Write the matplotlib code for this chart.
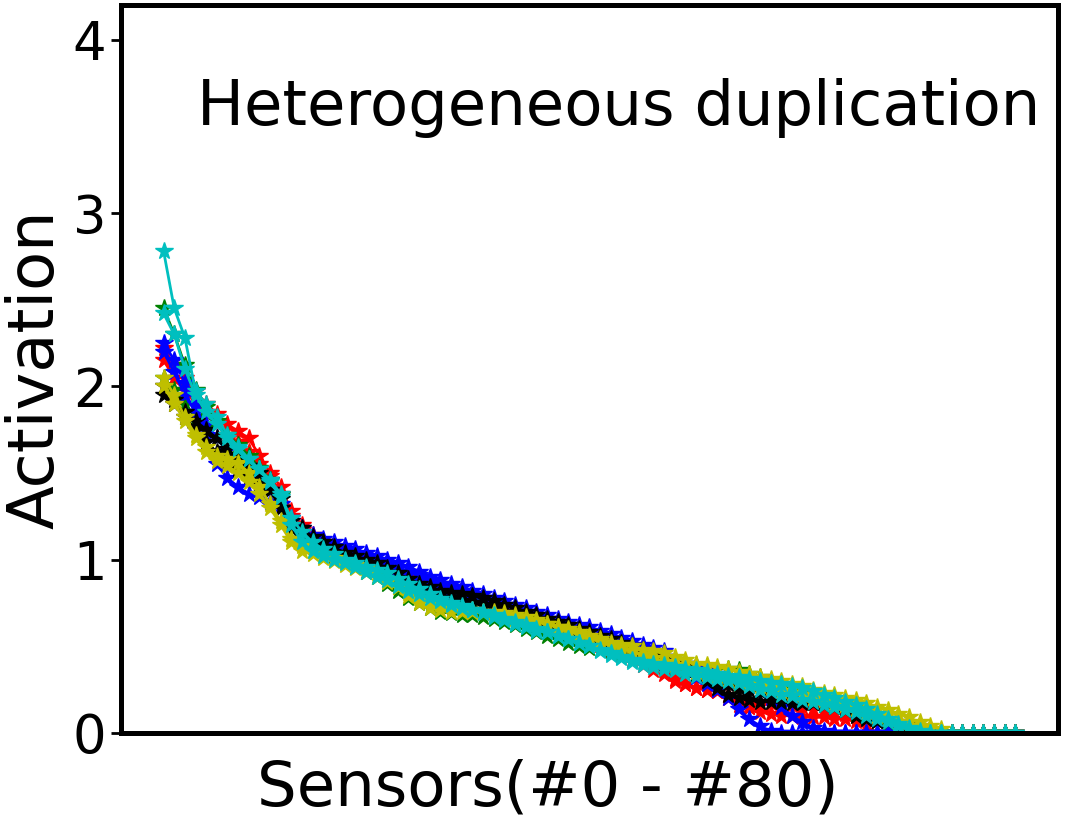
import numpy as np
import matplotlib
matplotlib.use('Agg')
import matplotlib.pyplot as plt

# sorted activations of the 81 sensors, two runs per colour
sensors = np.arange(81)

red_1 = [2.22, 2.12, 2.05, 1.97, 1.90, 1.84, 1.78, 1.74, 1.70, 1.60, 1.50, 1.42, 1.28,
         1.20, 1.14, 1.10, 1.06, 1.03, 1.00, 0.98, 0.96,
         0.94, 0.92, 0.90, 0.88, 0.86, 0.84, 0.82, 0.80, 0.78, 0.76,
         0.74, 0.72, 0.70, 0.68, 0.66, 0.64, 0.62, 0.60, 0.57, 0.54,
         0.51, 0.48, 0.45, 0.42, 0.39, 0.36, 0.34, 0.31, 0.28, 0.26,
         0.25, 0.24, 0.22, 0.18, 0.15, 0.12, 0.11, 0.10, 0.10, 0.09,
         0.09, 0.09, 0.08, 0.08, 0.07, 0.04, 0, 0, 0, 0,
         0, 0, 0, 0, 0, 0, 0, 0, 0, 0]
red_2 = [2.15, 2.05, 1.98, 1.90, 1.85, 1.78, 1.72, 1.68, 1.62, 1.55, 1.48, 1.38, 1.25,
         1.17, 1.12, 1.08, 1.05, 1.02, 0.99, 0.97, 0.95,
         0.93, 0.90, 0.88, 0.86, 0.84, 0.82, 0.80, 0.79, 0.77, 0.75,
         0.73, 0.71, 0.69, 0.67, 0.65, 0.63, 0.61, 0.59, 0.57, 0.55,
         0.53, 0.51, 0.49, 0.47, 0.45, 0.40, 0.36, 0.30, 0.28, 0.26,
         0.25, 0.24, 0.20, 0.16, 0.15, 0.16, 0.17, 0.16, 0.16, 0.15,
         0.14, 0.13, 0.12, 0.11, 0.10, 0.09, 0.07, 0.04, 0.01, 0,
         0, 0, 0, 0, 0, 0, 0, 0, 0, 0]
green_1 = [2.45, 2.30, 2.12, 1.98, 1.88, 1.80, 1.72, 1.66, 1.60, 1.53, 1.46, 1.37, 1.20,
           1.12, 1.08, 1.05, 1.02, 0.99, 0.96, 0.93, 0.90,
           0.86, 0.82, 0.78, 0.75, 0.72, 0.70, 0.69, 0.68, 0.68, 0.67,
           0.66, 0.64, 0.62, 0.60, 0.58, 0.56, 0.54, 0.52, 0.50, 0.49,
           0.48, 0.47, 0.46, 0.45, 0.44, 0.43, 0.42, 0.41, 0.40, 0.39,
           0.38, 0.37, 0.37, 0.36, 0.34, 0.32, 0.30, 0.28, 0.26, 0.24,
           0.23, 0.21, 0.19, 0.17, 0.15, 0.13, 0.11, 0.08, 0.05, 0.02,
           0, 0, 0, 0, 0, 0, 0, 0, 0, 0]
green_2 = [2.05, 1.98, 1.90, 1.82, 1.76, 1.70, 1.64, 1.58, 1.52, 1.47, 1.40, 1.30, 1.18,
           1.12, 1.09, 1.07, 1.05, 1.03, 1.01, 0.99, 0.97,
           0.95, 0.92, 0.89, 0.86, 0.84, 0.82, 0.80, 0.78, 0.76, 0.74,
           0.72, 0.70, 0.68, 0.66, 0.64, 0.62, 0.60, 0.58, 0.56, 0.54,
           0.52, 0.50, 0.48, 0.46, 0.44, 0.42, 0.40, 0.38, 0.36, 0.34,
           0.33, 0.31, 0.30, 0.28, 0.27, 0.25, 0.24, 0.22, 0.21, 0.20,
           0.18, 0.17, 0.15, 0.13, 0.11, 0.09, 0.07, 0.05, 0.03, 0.01,
           0, 0, 0, 0, 0, 0, 0, 0, 0, 0]
blue_1 = [2.25, 2.15, 2.02, 1.90, 1.72, 1.55, 1.47, 1.42, 1.38, 1.36, 1.33, 1.30, 1.24,
          1.18, 1.14, 1.12, 1.10, 1.08, 1.06, 1.04, 1.02,
          1.00, 0.98, 0.96, 0.93, 0.90, 0.88, 0.86, 0.84, 0.82, 0.80,
          0.78, 0.76, 0.74, 0.72, 0.70, 0.68, 0.66, 0.64, 0.62, 0.61,
          0.59, 0.57, 0.55, 0.53, 0.51, 0.49, 0.47, 0.42, 0.36, 0.32,
          0.28, 0.25, 0.20, 0.14, 0.08, 0.04, 0.01, 0, 0, 0,
          0, 0, 0, 0, 0, 0, 0, 0, 0, 0,
          0, 0, 0, 0, 0, 0, 0, 0, 0, 0]
blue_2 = [2.20, 2.08, 1.95, 1.85, 1.78, 1.70, 1.63, 1.56, 1.50, 1.45, 1.40, 1.32, 1.22,
          1.16, 1.12, 1.09, 1.07, 1.05, 1.03, 1.01, 0.99,
          0.97, 0.95, 0.93, 0.91, 0.88, 0.86, 0.84, 0.82, 0.80, 0.78,
          0.76, 0.74, 0.72, 0.70, 0.68, 0.66, 0.64, 0.62, 0.60, 0.58,
          0.56, 0.54, 0.52, 0.50, 0.48, 0.46, 0.44, 0.42, 0.40, 0.38,
          0.36, 0.34, 0.32, 0.30, 0.27, 0.24, 0.20, 0.15, 0.10, 0.06,
          0.03, 0.01, 0, 0, 0, 0, 0, 0, 0, 0,
          0, 0, 0, 0, 0, 0, 0, 0, 0, 0]
black_1 = [1.95, 1.90, 1.85, 1.80, 1.75, 1.70, 1.64, 1.58, 1.54, 1.50, 1.46, 1.35, 1.22,
           1.18, 1.13, 1.10, 1.07, 1.04, 1.02, 1.00, 0.98,
           0.95, 0.92, 0.89, 0.86, 0.84, 0.82, 0.81, 0.80, 0.79, 0.78,
           0.76, 0.74, 0.72, 0.70, 0.68, 0.66, 0.64, 0.62, 0.60, 0.58,
           0.56, 0.54, 0.52, 0.50, 0.48, 0.46, 0.44, 0.41, 0.38, 0.35,
           0.30, 0.26, 0.22, 0.20, 0.19, 0.18, 0.18, 0.18, 0.17, 0.17,
           0.17, 0.16, 0.15, 0.13, 0.10, 0.08, 0.07, 0.07, 0.06, 0.05,
           0.02, 0, 0, 0, 0, 0, 0, 0, 0, 0]
black_2 = [2.00, 1.92, 1.82, 1.75, 1.68, 1.62, 1.57, 1.52, 1.48, 1.44, 1.40, 1.30, 1.18,
           1.12, 1.08, 1.05, 1.03, 1.01, 0.99, 0.97, 0.95,
           0.92, 0.89, 0.86, 0.84, 0.82, 0.80, 0.78, 0.76, 0.75, 0.74,
           0.72, 0.70, 0.68, 0.66, 0.64, 0.62, 0.60, 0.58, 0.56, 0.54,
           0.52, 0.50, 0.48, 0.46, 0.44, 0.42, 0.40, 0.38, 0.36, 0.34,
           0.32, 0.30, 0.28, 0.26, 0.25, 0.24, 0.22, 0.21, 0.20, 0.19,
           0.18, 0.17, 0.16, 0.14, 0.12, 0.10, 0.08, 0.06, 0.04, 0.02,
           0, 0, 0, 0, 0, 0, 0, 0, 0, 0]
yellow_1 = [2.05, 1.95, 1.82, 1.72, 1.65, 1.60, 1.58, 1.56, 1.50, 1.42, 1.32, 1.22, 1.12,
            1.08, 1.05, 1.03, 1.01, 0.99, 0.97, 0.95, 0.92,
            0.88, 0.84, 0.79, 0.75, 0.72, 0.71, 0.70, 0.70, 0.70, 0.69,
            0.68, 0.67, 0.66, 0.65, 0.64, 0.63, 0.61, 0.60, 0.58, 0.56,
            0.54, 0.52, 0.51, 0.50, 0.48, 0.47, 0.46, 0.44, 0.42, 0.40,
            0.39, 0.38, 0.37, 0.35, 0.34, 0.32, 0.31, 0.30, 0.28, 0.27,
            0.25, 0.23, 0.22, 0.20, 0.19, 0.17, 0.15, 0.13, 0.11, 0.09,
            0.06, 0.04, 0.02, 0, 0, 0, 0, 0, 0, 0]
yellow_2 = [2.00, 1.90, 1.80, 1.70, 1.62, 1.57, 1.54, 1.50, 1.45, 1.38, 1.30, 1.20, 1.10,
            1.05, 1.03, 1.01, 0.99, 0.97, 0.95, 0.93, 0.90,
            0.87, 0.84, 0.81, 0.78, 0.76, 0.74, 0.73, 0.72, 0.71, 0.70,
            0.70, 0.69, 0.68, 0.67, 0.65, 0.63, 0.61, 0.59, 0.57, 0.55,
            0.53, 0.51, 0.49, 0.47, 0.45, 0.43, 0.41, 0.39, 0.37, 0.35,
            0.34, 0.33, 0.31, 0.30, 0.28, 0.27, 0.26, 0.24, 0.23, 0.22,
            0.20, 0.19, 0.17, 0.16, 0.14, 0.12, 0.10, 0.08, 0.06, 0.04,
            0.02, 0, 0, 0, 0, 0, 0, 0, 0, 0]
cyan_1 = [2.78, 2.45, 2.28, 1.97, 1.90, 1.82, 1.72, 1.65, 1.58, 1.52, 1.45, 1.36, 1.24,
          1.16, 1.10, 1.06, 1.03, 1.00, 0.98, 0.96, 0.94,
          0.92, 0.89, 0.86, 0.83, 0.80, 0.77, 0.75, 0.73, 0.71, 0.69,
          0.67, 0.65, 0.63, 0.61, 0.59, 0.58, 0.56, 0.54, 0.52, 0.50,
          0.48, 0.46, 0.44, 0.42, 0.41, 0.40, 0.39, 0.38, 0.37, 0.36,
          0.35, 0.34, 0.33, 0.32, 0.31, 0.30, 0.29, 0.28, 0.27, 0.26,
          0.24, 0.22, 0.20, 0.18, 0.16, 0.14, 0.11, 0.08, 0.05, 0.03,
          0.01, 0, 0, 0, 0, 0, 0, 0, 0, 0]
cyan_2 = [2.42, 2.30, 2.10, 1.95, 1.85, 1.78, 1.70, 1.64, 1.58, 1.52, 1.46, 1.38, 1.20,
          1.10, 1.05, 1.02, 1.00, 0.98, 0.96, 0.93, 0.90,
          0.88, 0.85, 0.82, 0.80, 0.78, 0.76, 0.74, 0.72, 0.71, 0.70,
          0.68, 0.66, 0.64, 0.62, 0.60, 0.58, 0.56, 0.54, 0.52, 0.50,
          0.47, 0.45, 0.43, 0.41, 0.39, 0.38, 0.37, 0.36, 0.34, 0.33,
          0.32, 0.31, 0.30, 0.29, 0.27, 0.25, 0.24, 0.22, 0.21, 0.19,
          0.18, 0.16, 0.15, 0.13, 0.12, 0.10, 0.08, 0.06, 0.04, 0.02,
          0, 0, 0, 0, 0, 0, 0, 0, 0, 0]

runs = [(red_1, 'r'), (red_2, 'r'), (green_1, 'g'), (green_2, 'g'),
        (blue_1, 'b'), (blue_2, 'b'), (black_1, 'k'), (black_2, 'k'),
        (yellow_1, 'y'), (yellow_2, 'y'), (cyan_1, 'c'), (cyan_2, 'c')]

fig = plt.figure(figsize=(10.66, 8.3), dpi=100)
ax = fig.add_axes([0.1135, 0.117, 0.879, 0.877])

for vals, col in runs:
    ax.plot(sensors, vals, '-*', color=col, ms=13, lw=2)

ax.set_ylim(0, 4.2)
ax.set_yticks([0, 1, 2, 3, 4])
ax.set_xticks([])
ax.tick_params(axis='y', labelsize=38, length=7, width=2)
for sp in ax.spines.values():
    sp.set_linewidth(3.6)

ax.set_ylabel('Activation', fontsize=46)
ax.set_xlabel('Sensors(#0 - #80)', fontsize=45)
ax.xaxis.set_label_coords(0.456, -0.035)
ax.yaxis.set_label_coords(-0.058, 0.5)
ax.text(0.981, 0.835, 'Heterogeneous duplication', fontsize=45,
        ha='right', va='baseline', transform=ax.transAxes)

plt.savefig('out.png', dpi=100)
